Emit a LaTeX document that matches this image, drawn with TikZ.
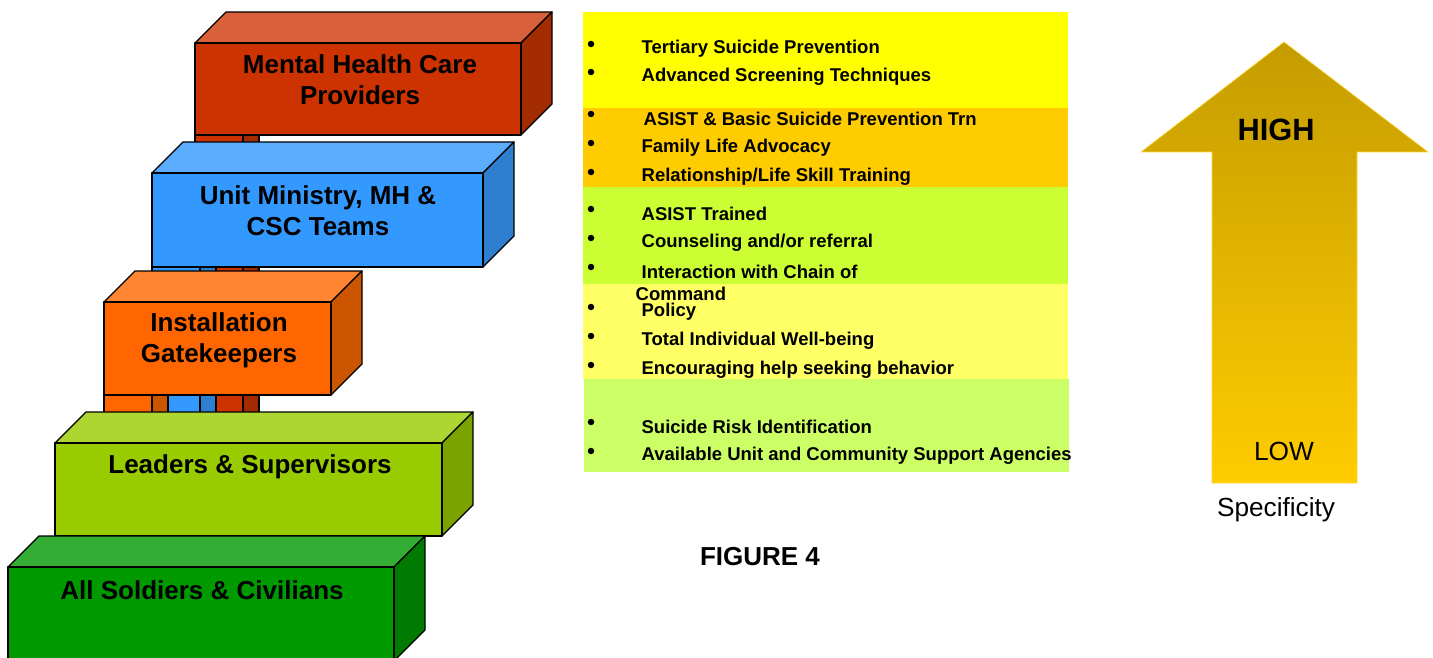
\documentclass[tikz,border=0pt]{standalone}
\usepackage{fontspec}
\setmainfont{Liberation Sans}
\usetikzlibrary{positioning}
\usepackage{xcolor}
% block colours: front, top, side
\definecolor{mhcfront}{HTML}{CC3300}
\definecolor{mhctop}{HTML}{D8603A}
\definecolor{mhcside}{HTML}{A32B00}
\definecolor{unitfront}{HTML}{3399FF}
\definecolor{unittop}{HTML}{5CADFF}
\definecolor{unitside}{HTML}{2E7FD0}
\definecolor{gatefront}{HTML}{FF6600}
\definecolor{gatetop}{HTML}{FF8533}
\definecolor{gateside}{HTML}{CC5500}
\definecolor{leadfront}{HTML}{99CC00}
\definecolor{leadtop}{HTML}{ADD633}
\definecolor{leadside}{HTML}{7AA300}
\definecolor{allfront}{HTML}{009900}
\definecolor{alltop}{HTML}{33AD33}
\definecolor{allside}{HTML}{007A00}
% list bands
\definecolor{bandA}{HTML}{FFFF00}
\definecolor{bandB}{HTML}{FFCC00}
\definecolor{bandC}{HTML}{CCFF33}
\definecolor{bandD}{HTML}{FFFF66}
\definecolor{bandE}{HTML}{CCFF66}
% arrow gradient
\definecolor{goldtop}{HTML}{C49C00}
\definecolor{goldlow}{HTML}{FFCC00}

% 3d block: left, top, right, bottom of the front face, colour stem
\newcommand{\slab}[5]{%
  \filldraw[fill=#5top] (#1,#2) -- ++(31,-31) -- (#3+31,#2-31) -- (#3,#2) -- cycle;
  \filldraw[fill=#5side] (#3,#2) -- (#3+31,#2-31) -- (#3+31,#4-31) -- (#3,#4) -- cycle;
  \filldraw[fill=#5front] (#1,#2) rectangle (#3,#4);
}
% column running down behind the lower blocks
\newcommand{\stemcol}[3]{%
  \filldraw[fill=#3front] (#1,#2) rectangle (#1+48,430);
  \filldraw[fill=#3side] (#1+48,#2) rectangle (#1+64,430);
}

\begin{document}
\begin{tikzpicture}[x=1pt, y=-1pt, line width=1.3pt, line join=round,
  boxlabel/.style={align=center, font=\bfseries\fontsize{26}{31}\selectfont, inner sep=0},
  item/.style={anchor=west, font=\bfseries\fontsize{18.5}{20}\selectfont, inner sep=0},
  bul/.style={circle, fill=black, inner sep=0, minimum size=6.5pt}]
  \clip (0,0) rectangle (1433,658);

  % the stacked blocks, back to front
  \stemcol{195}{135}{mhc}
  \slab{195}{43}{521}{135}{mhc}
  \stemcol{152}{267}{unit}
  \slab{152}{173}{483}{267}{unit}
  \stemcol{104}{395}{gate}
  \slab{104}{302}{331}{395}{gate}
  \slab{55}{443}{442}{536}{lead}
  \slab{8}{567}{394}{661}{all}

  \node[boxlabel] (mhc) at (360,80) {Mental Health Care\\Providers};
  \node[boxlabel] (unit) at (318,211) {Unit Ministry, MH \&\\CSC Teams};
  \node[boxlabel] (gate) at (219,340) {Installation\\Gatekeepers};
  \node[boxlabel] (lead) at (250,467) {Leaders \& Supervisors};
  \node[boxlabel] (all) at (202,590) {All Soldiers \& Civilians};

  % coloured bands behind the lists
  \fill[bandA] (583,12) rectangle (1068,108);
  \fill[bandB] (583,108) rectangle (1068,187);
  \fill[bandC] (583,187) rectangle (1068,284);
  \fill[bandD] (583,284) rectangle (1068,379);
  \fill[bandE] (584,379) rectangle (1069,472);

  % bullets
  \foreach \y [count=\i] in {44,72,114,143,172,209,238,267,307,336,365,422,451}
    \node[bul] (b\i) at (591,\y) {};

  \node[item] (t1) at (641,49) {Tertiary Suicide Prevention};
  \node[item] (t2) at (641,77) {Advanced Screening Techniques};
  \node[item] (t3) at (643,119) {ASIST \& Basic Suicide Prevention Trn};
  \node[item] (t4) at (641,148) {Family Life Advocacy};
  \node[item] (t5) at (641,177) {Relationship/Life Skill Training};
  \node[item] (t6) at (641,214) {ASIST Trained};
  \node[item] (t7) at (641,243) {Counseling and/or referral};
  \node[item] (t8) at (641,272) {Interaction with Chain of};
  \node[item] (t8b) at (635,294) {Command};
  \node[item] (t9) at (641,312) {Policy};
  \node[item] (t10) at (641,341) {Total Individual Well-being};
  \node[item] (t11) at (641,370) {Encouraging help seeking behavior};
  \node[item] (t12) at (641,427) {Suicide Risk Identification};
  \node[item] (t13) at (641,456) {Available Unit and Community Support Agencies};

  \node[font=\bfseries\fontsize{26}{30}\selectfont] (fig) at (760,557) {FIGURE 4};

  % specificity arrow
  \shade[top color=goldtop, bottom color=goldlow, draw=goldlow!80!white, line width=0.6pt]
    (1212,483) -- (1212,152) -- (1141,152) -- (1284,42) -- (1428,152)
    -- (1357,152) -- (1357,483) -- cycle;
  \node[font=\bfseries\fontsize{30.8}{34}\selectfont] (high) at (1276,130) {HIGH};
  \node[font=\fontsize{26.3}{30}\selectfont] (low) at (1284,451) {LOW};
  \node[font=\fontsize{26.2}{30}\selectfont] (spec) at (1276,510) {Specificity};
\end{tikzpicture}
\end{document}
